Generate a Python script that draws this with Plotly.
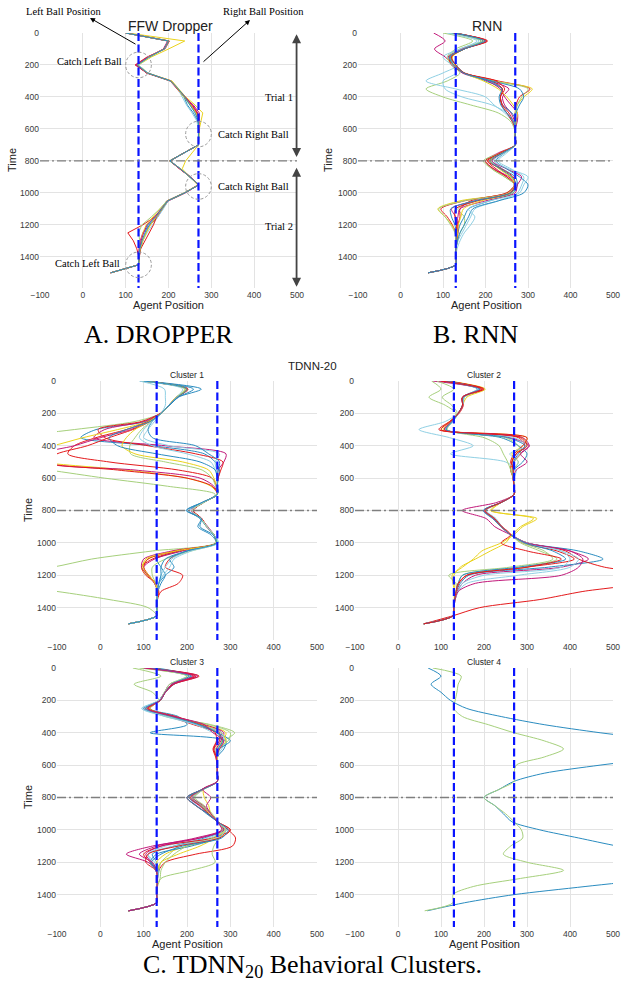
import plotly.graph_objects as go

W, H = 622, 994
SANS = "Liberation Sans, Arial, sans-serif"
SERIF = "Liberation Serif, Times New Roman, serif"

# ---------------- data ----------------
T = [0, 50, 100, 150, 200, 250, 300, 350, 400, 450, 500, 550, 600, 650, 700, 750,
     800, 850, 900, 950, 1000, 1050, 1100, 1150, 1200, 1250, 1300, 1350, 1400, 1450, 1500]

PALETTE = {"red": "#e41a1c", "magenta": "#c2187a", "yellow": "#ead31c",
           "green": "#a6d07c", "blue": "#2a8cc0", "ltblue": "#8fd0e4"}

BALL_POSITIONS = [130, 270]
TRIAL_SPLIT = 800
X_TICKS = [-100, 0, 100, 200, 300, 400, 500]
Y_TICKS = [0, 200, 400, 600, 800, 1000, 1200, 1400]

DROPPER_X = [
    [103, 202, 192, 150, 122, 150, 207, 222, 240, 255, 268, 270, 272, 270, 270, 236, 203, 226, 250, 271, 238, 196, 184, 168, 140, 105, 118, 126, 131, 130, 65],
    [100, 198, 188, 155, 126, 148, 204, 220, 236, 258, 272, 272, 270, 270, 270, 236, 204, 228, 252, 270, 240, 200, 186, 175, 158, 140, 134, 131, 130, 130, 65],
    [105, 238, 200, 160, 130, 152, 208, 224, 240, 262, 280, 276, 272, 270, 270, 255, 240, 232, 250, 268, 238, 198, 180, 165, 148, 140, 136, 133, 131, 130, 65],
    [102, 200, 190, 154, 128, 150, 206, 222, 236, 250, 265, 268, 270, 272, 270, 236, 202, 228, 252, 270, 236, 196, 180, 160, 138, 130, 133, 134, 132, 130, 65],
    [100, 200, 190, 155, 128, 150, 205, 222, 236, 244, 258, 268, 270, 270, 270, 237, 204, 228, 250, 270, 238, 198, 186, 172, 155, 148, 140, 135, 131, 130, 65],
    [101, 200, 191, 156, 130, 152, 205, 222, 232, 242, 255, 266, 270, 270, 270, 236, 203, 228, 250, 270, 238, 199, 188, 175, 162, 150, 140, 134, 132, 130, 65],
    [100, 201, 189, 153, 125, 149, 205, 222, 237, 252, 266, 270, 270, 270, 270, 236, 203, 227, 250, 270, 238, 198, 185, 172, 165, 155, 145, 135, 132, 130, 65],
    [100, 199, 190, 152, 124, 150, 205, 222, 238, 256, 268, 270, 271, 270, 270, 236, 203, 226, 251, 270, 238, 198, 183, 168, 150, 142, 136, 133, 130, 130, 65],
    [100, 200, 190, 155, 128, 150, 205, 222, 236, 252, 264, 270, 270, 270, 270, 236, 203, 228, 250, 270, 238, 198, 185, 172, 158, 148, 140, 134, 131, 130, 65],
    [100, 200, 190, 155, 127, 151, 205, 223, 238, 250, 262, 270, 270, 270, 270, 236, 203, 228, 250, 271, 238, 198, 184, 170, 152, 145, 138, 133, 131, 130, 65],
]
DROPPER_C = ["red", "magenta", "yellow", "green", "blue", "ltblue", "red", "magenta", "yellow", "blue"]

RNN_X = [
    [125, 203, 145, 112, 125, 150, 230, 305, 280, 272, 270, 270, 270, 270, 270, 240, 205, 225, 250, 268, 250, 150, 95, 110, 122, 130, 131, 130, 130, 130, 65],
    [78, 105, 80, 105, 125, 145, 210, 255, 240, 245, 260, 268, 270, 270, 270, 230, 200, 220, 255, 270, 260, 175, 120, 130, 135, 133, 132, 131, 130, 130, 65],
    [120, 195, 140, 110, 125, 150, 220, 310, 290, 275, 270, 270, 270, 270, 270, 235, 210, 235, 260, 270, 255, 140, 88, 105, 120, 130, 131, 130, 130, 130, 65],
    [100, 170, 130, 110, 120, 140, 110, 60, 100, 165, 230, 258, 268, 270, 270, 245, 200, 215, 245, 268, 250, 180, 135, 150, 150, 140, 135, 130, 130, 130, 65],
    [130, 190, 150, 120, 130, 150, 200, 240, 235, 240, 262, 272, 270, 270, 270, 240, 215, 240, 270, 275, 265, 210, 160, 150, 140, 135, 132, 130, 130, 130, 65],
    [125, 185, 140, 110, 135, 100, 60, 130, 200, 220, 245, 262, 270, 270, 270, 250, 230, 260, 290, 285, 275, 230, 175, 165, 155, 145, 135, 130, 130, 130, 65],
    [130, 200, 150, 115, 120, 150, 215, 240, 235, 240, 255, 265, 270, 270, 270, 235, 200, 218, 250, 268, 250, 165, 140, 140, 135, 135, 133, 131, 130, 130, 65],
    [125, 200, 145, 118, 125, 150, 205, 235, 245, 260, 275, 275, 270, 270, 270, 240, 215, 250, 285, 275, 270, 200, 140, 135, 132, 132, 131, 130, 130, 130, 65],
    [128, 195, 150, 122, 128, 150, 195, 230, 250, 265, 275, 272, 270, 270, 270, 238, 212, 232, 258, 270, 262, 190, 148, 142, 136, 134, 132, 130, 130, 130, 65],
    [115, 190, 150, 118, 125, 150, 220, 300, 285, 275, 270, 270, 270, 270, 270, 235, 195, 215, 245, 268, 255, 150, 90, 105, 118, 128, 130, 130, 130, 130, 65],
    [120, 200, 150, 118, 130, 150, 215, 280, 290, 280, 272, 270, 270, 270, 270, 245, 225, 250, 280, 300, 290, 230, 170, 160, 150, 140, 134, 131, 130, 130, 65],
    [110, 180, 140, 100, 120, 130, 100, 105, 145, 215, 250, 265, 270, 270, 270, 245, 220, 255, 300, 290, 280, 210, 160, 175, 165, 150, 140, 133, 130, 130, 65],
    [125, 205, 150, 120, 130, 150, 225, 245, 235, 238, 250, 262, 270, 270, 270, 235, 205, 238, 265, 270, 258, 180, 130, 128, 132, 132, 131, 130, 130, 130, 65],
    [130, 195, 150, 115, 125, 148, 210, 238, 232, 236, 250, 265, 270, 270, 270, 240, 210, 235, 262, 272, 260, 175, 118, 120, 128, 131, 131, 130, 130, 130, 65],
]
RNN_C = ["red", "magenta", "yellow", "green", "blue", "ltblue", "red", "magenta",
         "yellow", "green", "blue", "ltblue", "red", "blue"]

C1_X = [
    [95, 195, 175, 158, 140, 80, -60, -220, -340, -360, -280, -120, 10, 155, 265, 240, 212, 232, 245, 262, 265, 120, -20, -110, -250, -250, -100, 20, 110, 130, 65],
    [100, 233, 180, 160, 140, 105, -10, -45, 120, 240, 265, 275, 272, 270, 270, 235, 198, 233, 225, 255, 268, 185, 130, 140, 150, 140, 133, 130, 130, 130, 65],
    [92, 200, 178, 160, 140, 100, 10, -15, 150, 290, 285, 272, 270, 270, 270, 238, 210, 232, 248, 262, 268, 190, 125, 100, 110, 125, 132, 131, 130, 130, 65],
    [95, 202, 176, 158, 138, 95, -5, 10, 110, 220, 283, 278, 272, 270, 270, 238, 214, 234, 245, 262, 268, 180, 120, 95, 105, 128, 135, 131, 130, 130, 65],
    [98, 198, 175, 158, 140, 110, 40, -40, -110, -220, -140, 60, 200, 255, 270, 238, 212, 232, 246, 262, 268, 170, 110, 95, 108, 126, 132, 131, 130, 130, 65],
    [100, 200, 177, 158, 140, 110, 60, -10, -60, -75, 20, 180, 258, 268, 270, 238, 214, 234, 246, 262, 268, 200, 160, 150, 190, 180, 140, 132, 130, 130, 65],
    [96, 200, 176, 158, 140, 112, 70, 0, -60, -130, -130, 80, 230, 262, 270, 238, 212, 232, 246, 262, 268, 165, 100, 95, 110, 125, 132, 131, 130, 130, 65],
    [100, 202, 178, 158, 140, 115, 75, 20, -30, -100, -130, 40, 200, 258, 270, 238, 215, 234, 246, 262, 268, 175, 110, 100, 112, 127, 133, 131, 130, 130, 65],
    [94, 196, 176, 158, 140, 118, 95, 80, 68, 70, 150, 235, 258, 266, 270, 238, 212, 232, 246, 262, 270, 210, 150, 120, 120, 128, 132, 131, 130, 130, 65],
    [90, 148, 150, 150, 140, 125, 110, 100, 160, 275, 265, 268, 270, 270, 270, 238, 212, 232, 246, 262, 272, 200, 165, 150, 140, 135, 132, 131, 130, 130, 65],
    [100, 215, 180, 160, 140, 120, 110, 120, 220, 250, 275, 272, 270, 270, 270, 238, 205, 230, 245, 262, 268, 200, 160, 170, 150, 135, 132, 131, 130, 130, 65],
    [98, 200, 176, 158, 140, 112, 80, 60, 50, 80, 190, 250, 262, 268, 270, 238, 212, 232, 246, 262, 268, 175, 105, 98, 112, 126, 132, 131, 130, 130, 65],
    [95, 190, 176, 158, 140, 120, 100, 90, 120, 200, 255, 265, 270, 270, 270, 238, 212, 232, 246, 262, 272, 210, 170, 160, 145, 135, 132, 131, 130, 130, 65],
    [100, 200, 178, 158, 140, 115, 60, 20, 40, 130, 230, 265, 270, 270, 270, 235, 200, 233, 230, 260, 268, 200, 150, 140, 140, 135, 132, 131, 130, 130, 65],
]
C1_C = ["green", "blue", "magenta", "red", "yellow", "red", "magenta", "red",
        "green", "ltblue", "blue", "yellow", "ltblue", "blue"]

C2_X = [
    [118, 203, 160, 150, 140, 120, 100, 300, 290, 265, 280, 268, 268, 270, 270, 240, 215, 323, 290, 269, 240, 195, 175, 150, 126, 128, 131, 131, 130, 128, 60],
    [110, 195, 155, 150, 140, 122, 105, 290, 300, 270, 265, 262, 268, 270, 270, 240, 218, 315, 285, 265, 250, 215, 180, 145, 130, 132, 131, 131, 130, 128, 60],
    [80, 190, 150, 150, 140, 125, 110, 260, 305, 285, 270, 268, 268, 270, 270, 230, 149, 205, 225, 262, 300, 400, 443, 380, 180, 150, 138, 133, 130, 128, 60],
    [100, 185, 150, 150, 140, 128, 112, 240, 280, 300, 290, 270, 268, 270, 270, 240, 200, 225, 240, 262, 300, 420, 477, 350, 165, 145, 136, 132, 130, 128, 60],
    [115, 200, 150, 152, 142, 120, 95, 300, 290, 270, 262, 268, 268, 270, 270, 240, 202, 222, 240, 262, 290, 370, 410, 300, 160, 142, 136, 132, 130, 128, 60],
    [112, 198, 150, 150, 140, 125, 108, 280, 295, 275, 265, 262, 268, 270, 270, 240, 200, 225, 242, 262, 300, 390, 420, 480, 600, 560, 430, 330, 190, 128, 60],
    [105, 190, 155, 150, 140, 110, 49, 120, 175, 122, 250, 275, 270, 270, 270, 240, 205, 225, 242, 262, 295, 380, 400, 380, 200, 150, 140, 133, 130, 128, 60],
    [78, 100, 72, 110, 135, 125, 115, 200, 235, 245, 255, 262, 268, 270, 270, 240, 202, 222, 240, 262, 290, 340, 360, 260, 118, 135, 135, 132, 130, 128, 60],
    [90, 130, 103, 125, 138, 125, 110, 250, 280, 285, 270, 265, 268, 270, 270, 240, 200, 225, 240, 262, 285, 330, 370, 290, 150, 140, 135, 132, 130, 128, 60],
    [100, 188, 152, 150, 140, 128, 110, 270, 300, 260, 280, 270, 268, 270, 270, 240, 205, 228, 242, 262, 300, 380, 420, 400, 280, 160, 140, 133, 130, 128, 60],
    [95, 192, 150, 150, 140, 124, 108, 290, 305, 285, 300, 275, 268, 270, 270, 240, 200, 222, 240, 262, 298, 400, 430, 420, 380, 180, 140, 133, 130, 128, 60],
    [108, 190, 152, 150, 140, 126, 112, 255, 295, 280, 268, 268, 268, 270, 270, 240, 198, 220, 240, 262, 295, 360, 390, 280, 150, 140, 135, 132, 130, 128, 60],
    [100, 195, 150, 150, 140, 122, 100, 285, 300, 275, 265, 268, 268, 270, 270, 240, 203, 225, 242, 262, 240, 300, 380, 300, 160, 140, 135, 132, 130, 128, 60],
]
C2_C = ["yellow", "yellow", "magenta", "blue", "red", "red", "ltblue", "green",
        "green", "ltblue", "magenta", "blue", "red"]

C3_X = [
    [110, 228, 170, 150, 138, 115, 160, 215, 270, 285, 270, 268, 270, 270, 270, 235, 210, 235, 250, 270, 295, 312, 305, 220, 150, 135, 132, 131, 130, 130, 65],
    [100, 220, 160, 148, 135, 100, 170, 230, 280, 270, 262, 268, 270, 270, 270, 235, 205, 228, 248, 270, 282, 230, 120, 60, 110, 130, 132, 131, 130, 130, 65],
    [75, 140, 78, 120, 135, 110, 150, 255, 310, 285, 265, 268, 270, 270, 270, 238, 215, 235, 255, 272, 285, 260, 180, 160, 140, 135, 132, 131, 130, 130, 65],
    [90, 200, 165, 150, 138, 115, 170, 230, 270, 280, 270, 268, 270, 270, 270, 238, 215, 235, 255, 272, 285, 275, 262, 258, 265, 210, 140, 131, 130, 130, 65],
    [130, 210, 170, 150, 135, 110, 180, 200, 115, 290, 285, 270, 270, 270, 270, 236, 200, 222, 245, 270, 285, 240, 170, 120, 130, 135, 132, 131, 130, 130, 65],
    [120, 205, 165, 150, 138, 108, 170, 240, 290, 282, 272, 268, 270, 270, 270, 235, 210, 232, 252, 270, 290, 275, 200, 150, 130, 132, 131, 131, 130, 130, 65],
    [105, 200, 160, 148, 135, 95, 150, 220, 260, 290, 280, 268, 270, 270, 270, 238, 212, 230, 250, 270, 288, 250, 150, 110, 125, 133, 132, 131, 130, 130, 65],
    [115, 215, 168, 150, 138, 112, 175, 235, 275, 275, 262, 268, 270, 270, 270, 235, 200, 220, 248, 270, 300, 260, 140, 100, 115, 130, 132, 131, 130, 130, 65],
    [108, 225, 170, 150, 138, 105, 165, 240, 285, 278, 268, 268, 270, 270, 270, 235, 212, 238, 255, 270, 285, 230, 140, 105, 118, 130, 132, 131, 130, 130, 65],
    [112, 210, 165, 150, 138, 100, 160, 225, 270, 300, 275, 268, 270, 270, 270, 235, 205, 232, 250, 270, 290, 270, 210, 130, 115, 128, 132, 131, 130, 130, 65],
    [100, 205, 165, 150, 138, 112, 165, 235, 280, 290, 275, 270, 270, 270, 270, 238, 240, 250, 255, 272, 288, 265, 230, 180, 140, 132, 131, 131, 130, 130, 65],
    [95, 200, 160, 148, 136, 105, 160, 250, 300, 295, 270, 268, 270, 270, 270, 238, 218, 240, 258, 272, 282, 260, 200, 170, 150, 140, 138, 132, 130, 130, 65],
    [110, 205, 165, 150, 136, 98, 155, 225, 280, 285, 270, 268, 270, 270, 270, 238, 210, 232, 250, 270, 290, 270, 170, 110, 120, 132, 132, 131, 130, 130, 65],
    [105, 220, 168, 150, 138, 110, 170, 232, 265, 268, 260, 266, 270, 270, 270, 236, 208, 230, 250, 270, 300, 275, 180, 110, 105, 128, 132, 131, 130, 130, 65],
    [118, 205, 165, 150, 138, 104, 165, 228, 270, 282, 272, 268, 270, 270, 270, 236, 200, 220, 248, 270, 295, 280, 190, 140, 118, 130, 132, 131, 130, 130, 65],
    [100, 215, 165, 150, 138, 108, 170, 240, 260, 285, 275, 268, 270, 270, 270, 236, 255, 245, 255, 270, 280, 220, 130, 90, 120, 130, 132, 131, 130, 130, 65],
]
C3_C = ["red", "magenta", "green", "green", "blue", "yellow", "ltblue", "red",
        "magenta", "blue", "yellow", "green", "ltblue", "red", "blue", "magenta"]

C4_X = [
    [70, 100, 77, 100, 122, 160, 240, 340, 470, 620, 700, 620, 470, 340, 270, 235, 200, 225, 245, 265, 330, 420, 510, 620, 700, 700, 600, 435, 270, 155, 68],
    [81, 147, 140, 137, 133, 130, 150, 210, 270, 340, 385, 340, 275, 270, 270, 235, 200, 225, 250, 270, 287, 290, 262, 245, 300, 385, 285, 175, 128, 128, 62],
]
C4_C = ["blue", "green"]

# ---------------- layout helpers ----------------
def dom_x(a, b):
    return [a / W, b / W]

def dom_y(top, bottom):
    return [1 - bottom / H, 1 - top / H]

PANELS = [
    # id, x px, y px, data, colours, line shape, y max
    ("", (40, 297), (33, 288), DROPPER_X, DROPPER_C, "linear", 1595),
    ("2", (358, 613), (33, 288), RNN_X, RNN_C, "spline", 1595),
    ("3", (57, 317), (381, 640), C1_X, C1_C, "spline", 1600),
    ("4", (355, 613), (381, 640), C2_X, C2_C, "spline", 1600),
    ("5", (57, 317), (668, 927), C3_X, C3_C, "spline", 1600),
    ("6", (355, 613), (668, 927), C4_X, C4_C, "spline", 1600),
]

fig = go.Figure()
layout = dict(width=W, height=H, margin=dict(l=0, r=0, t=0, b=0, autoexpand=False),
              paper_bgcolor="white", plot_bgcolor="white", showlegend=False,
              font=dict(family=SANS, color="#333333"))
shapes = []
annotations = []

GRID = "#e3e3e3"
for pid, (x0, x1), (y0, y1), data, cols, shape, ymax in PANELS:
    xa = "xaxis" + pid
    ya = "yaxis" + pid
    xr = "x" + pid
    yr = "y" + pid
    layout[xa] = dict(domain=dom_x(x0, x1), anchor=yr, range=[-100, 500],
                      tickvals=X_TICKS, showgrid=True, gridcolor=GRID, gridwidth=0.9,
                      zeroline=False, showline=False, ticks="", automargin=False,
                      tickfont=dict(size=8.5, color="#3a3a3a", family=SANS))
    layout[ya] = dict(domain=dom_y(y0, y1), anchor=xr, range=[ymax, 0],
                      tickvals=Y_TICKS, showgrid=True, gridcolor=GRID, gridwidth=0.9,
                      zeroline=False, showline=False, ticks="", automargin=False,
                      tickfont=dict(size=8.5, color="#3a3a3a", family=SANS))
    for xs, c in zip(data, cols):
        fig.add_trace(go.Scatter(x=xs, y=T, mode="lines", xaxis=xr, yaxis=yr,
                                 line=dict(color=PALETTE[c], width=1.0, shape=shape,
                                           smoothing=0.8),
                                 hoverinfo="skip", showlegend=False))
    # ball positions and trial split
    for bx in BALL_POSITIONS:
        shapes.append(dict(type="line", xref=xr, yref=yr, x0=bx, x1=bx, y0=0, y1=ymax,
                           line=dict(color="#0a14ff", width=2.2, dash="8px,3.5px")))
    shapes.append(dict(type="line", xref=xr, yref=yr, x0=-100, x1=500,
                       y0=TRIAL_SPLIT, y1=TRIAL_SPLIT,
                       line=dict(color="#7f7f7f", width=1.4, dash="9px,3px,2px,3px")))

def ann(text, x, y, size, family=SANS, color="#222222", angle=0, xanchor="center"):
    return dict(text=text, x=x / W, y=1 - y / H, xref="paper", yref="paper",
                showarrow=False, textangle=angle, xanchor=xanchor, yanchor="middle",
                font=dict(size=size, family=family, color=color))

# titles
annotations += [
    ann("FFW Dropper", 170, 26, 14),
    ann("RNN", 487, 26, 14),
    ann("Cluster 1", 187, 375, 8.5),
    ann("Cluster 2", 484, 375, 8.5),
    ann("Cluster 3", 187, 662, 8.5),
    ann("Cluster 4", 484, 662, 8.5),
    ann("TDNN-20", 312, 366, 11.5),
]
# axis titles
annotations += [
    ann("Time", 12, 160, 11, angle=-90),
    ann("Time", 328, 160, 11, angle=-90),
    ann("Time", 28, 510, 11, angle=-90),
    ann("Time", 28, 797, 11, angle=-90),
    ann("Agent Position", 168, 305, 11),
    ann("Agent Position", 487, 305, 11),
    ann("Agent Position", 187, 944, 11),
    ann("Agent Position", 484, 944, 11),
]
# captions
annotations += [
    ann("A. DROPPER", 158, 334, 26, family=SERIF, color="#000000"),
    ann("B. RNN", 475, 334, 26, family=SERIF, color="#000000"),
    ann("C. TDNN<sub>20</sub> Behavioral Clusters.", 312, 966, 26, family=SERIF, color="#000000"),
]

# panel A notes
annotations += [
    ann("Left Ball Position", 63, 12, 10.5, family=SERIF, color="#000000"),
    ann("Right Ball Position", 263, 12, 10.5, family=SERIF, color="#000000"),
    dict(text="", x=90 / W, y=1 - 18 / H, xref="paper", yref="paper", showarrow=True,
         ax=47, ay=27, arrowhead=2, arrowsize=1, arrowwidth=1, arrowcolor="#000000"),
    dict(text="", x=250 / W, y=1 - 20 / H, xref="paper", yref="paper", showarrow=True,
         ax=-48, ay=43, arrowhead=2, arrowsize=1, arrowwidth=1, arrowcolor="#000000"),
]
for text, tx, ty, anchor in [("Catch Left Ball", 97, 178, "right"),
                             ("Catch Right Ball", 312, 635, "left"),
                             ("Catch Right Ball", 312, 960, "left"),
                             ("Catch Left Ball", 92, 1444, "right"),
                             ("Trial 1", 459, 405, "center"),
                             ("Trial 2", 459, 1212, "center")]:
    annotations.append(dict(text=text, x=tx, y=ty, xref="x", yref="y", showarrow=False,
                            xanchor=anchor, yanchor="middle",
                            font=dict(size=10.5, family=SERIF, color="#000000")))
for cx, cy in [(130, 200), (270, 632), (270, 960), (130, 1450)]:
    shapes.append(dict(type="circle", xref="x", yref="y", x0=cx - 30, x1=cx + 30,
                       y0=cy - 80, y1=cy + 80,
                       line=dict(color="#9a9a9a", width=1, dash="3px,2px")))
for y_head, y_tail in [(8, 785), (1587, 833)]:
    annotations.append(dict(text="", x=499, y=y_head, ax=499, ay=y_tail,
                            xref="x", yref="y", axref="x", ayref="y", showarrow=True,
                            arrowside="end+start", arrowhead=2, arrowsize=1,
                            arrowwidth=1.8, arrowcolor="#444444"))

layout["shapes"] = shapes
layout["annotations"] = annotations
fig.update_layout(**layout)
# the page body has a default 8px margin; remove it so the figure sits at the window origin
fig.write_html("out.html", config={"displayModeBar": False},
               post_script="document.body.style.margin='0';document.body.style.overflow='hidden';")
